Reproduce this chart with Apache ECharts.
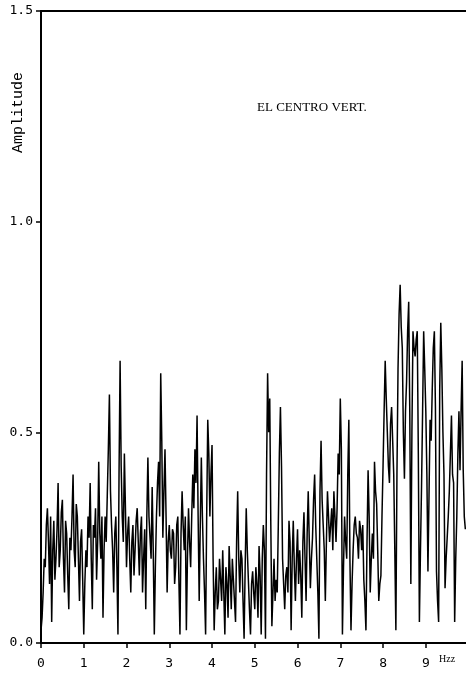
<!DOCTYPE html>
<html>
<head>
<meta charset="utf-8">
<script src="https://cdn.jsdelivr.net/npm/echarts@6/dist/echarts.min.js"></script>
<style>
	html, body { margin: 0; padding: 0; background: #fff; }
	#chart { width: 466px; height: 679px; }
</style>
</head>
<body>
<div id="chart"></div>
<script>
	// spectrum sampled every 0.025 Hz, starting at 0 Hz
	const freqStep = 0.025
	const amplitude = [
		0.03, 0.06, 0.12, 0.20, 0.18, 0.28, 0.32, 0.24, 0.14, 0.30, 0.05, 0.22, 0.29, 0.15, 0.20, 0.27, 0.38, 0.18, 0.22, 0.31, 0.34, // 0 - 0.5
		0.20, 0.12, 0.29, 0.26, 0.16, 0.08, 0.25, 0.22, 0.30, 0.40, 0.22, 0.18, 0.33, 0.30, 0.20, 0.10, 0.24, 0.27, 0.15, 0.02, // - 1.0
		0.14, 0.22, 0.18, 0.30, 0.25, 0.38, 0.20, 0.08, 0.28, 0.25, 0.32, 0.15, 0.24, 0.43, 0.26, 0.20, 0.30, 0.06, 0.22, 0.30, // - 1.5
		0.24, 0.35, 0.46, 0.59, 0.36, 0.28, 0.22, 0.12, 0.26, 0.30, 0.18, 0.02, 0.40, 0.67, 0.42, 0.30, 0.24, 0.45, 0.32, 0.18, // - 2.0
		0.26, 0.30, 0.20, 0.12, 0.24, 0.28, 0.16, 0.22, 0.29, 0.32, 0.24, 0.16, 0.26, 0.30, 0.12, 0.20, 0.27, 0.08, 0.30, 0.44, // - 2.5
		0.30, 0.25, 0.20, 0.37, 0.22, 0.02, 0.18, 0.30, 0.38, 0.43, 0.30, 0.64, 0.48, 0.25, 0.36, 0.46, 0.30, 0.12, 0.24, 0.28, // - 3.0
		0.22, 0.20, 0.27, 0.26, 0.14, 0.18, 0.28, 0.30, 0.15, 0.02, 0.26, 0.36, 0.28, 0.22, 0.30, 0.03, 0.20, 0.32, 0.24, 0.18, // - 3.5
		0.30, 0.40, 0.32, 0.46, 0.38, 0.54, 0.30, 0.10, 0.28, 0.44, 0.30, 0.20, 0.12, 0.02, 0.30, 0.53, 0.45, 0.30, 0.40, 0.47, // - 4.0
		0.20, 0.03, 0.12, 0.18, 0.08, 0.10, 0.20, 0.15, 0.10, 0.22, 0.12, 0.02, 0.18, 0.14, 0.06, 0.23, 0.16, 0.08, 0.20, 0.15, // - 4.5
		0.10, 0.05, 0.24, 0.36, 0.20, 0.12, 0.22, 0.20, 0.10, 0.01, 0.18, 0.32, 0.22, 0.15, 0.08, 0.02, 0.14, 0.17, 0.12, 0.08, // - 5.0
		0.18, 0.14, 0.06, 0.23, 0.16, 0.02, 0.20, 0.28, 0.22, 0.01, 0.40, 0.64, 0.50, 0.58, 0.28, 0.04, 0.12, 0.20, 0.10, 0.15, // - 5.5
		0.12, 0.28, 0.45, 0.56, 0.42, 0.20, 0.14, 0.08, 0.16, 0.18, 0.12, 0.29, 0.24, 0.03, 0.20, 0.29, 0.18, 0.10, 0.20, 0.27, // - 6.0
		0.14, 0.22, 0.16, 0.06, 0.24, 0.31, 0.20, 0.10, 0.26, 0.36, 0.24, 0.13, 0.20, 0.25, 0.34, 0.40, 0.28, 0.20, 0.12, 0.01, // - 6.5
		0.36, 0.48, 0.34, 0.28, 0.22, 0.10, 0.24, 0.36, 0.30, 0.24, 0.28, 0.32, 0.22, 0.36, 0.30, 0.24, 0.32, 0.45, 0.40, 0.58, // - 7.0
		0.46, 0.02, 0.18, 0.30, 0.24, 0.20, 0.40, 0.53, 0.20, 0.03, 0.14, 0.22, 0.28, 0.30, 0.26, 0.25, 0.20, 0.29, 0.27, 0.22, // - 7.5
		0.28, 0.15, 0.10, 0.03, 0.24, 0.41, 0.30, 0.12, 0.20, 0.26, 0.20, 0.43, 0.36, 0.33, 0.22, 0.10, 0.14, 0.16, 0.30, 0.42, // - 8.0
		0.55, 0.67, 0.58, 0.50, 0.42, 0.38, 0.52, 0.56, 0.48, 0.40, 0.22, 0.03, 0.40, 0.65, 0.78, 0.85, 0.75, 0.70, 0.50, 0.39, // - 8.5
		0.55, 0.62, 0.74, 0.81, 0.55, 0.14, 0.50, 0.74, 0.70, 0.68, 0.72, 0.74, 0.45, 0.05, 0.22, 0.37, 0.55, 0.74, 0.65, 0.55, // - 9.0
		0.40, 0.17, 0.35, 0.53, 0.48, 0.60, 0.70, 0.74, 0.56, 0.17, 0.10, 0.05, 0.60, 0.76, 0.65, 0.50, 0.40, 0.13, 0.20, 0.25, // - 9.5
		0.30, 0.36, 0.45, 0.54, 0.40, 0.38, 0.05, 0.20, 0.30, 0.45, 0.55, 0.41, 0.55, 0.67, 0.41, 0.30, 0.27 // - 9.925
	]
	const xTicks = [0, 1, 2, 3, 4, 5, 6, 7, 8, 9]
	const yTicks = [0, 0.5, 1.0, 1.5]

	const points = amplitude.map((a, i) => [+(i * freqStep).toFixed(3), a])

	const monoFont = 'DejaVu Sans Mono'
	const option = {
		animation: false,
		backgroundColor: '#fff',
		grid: {
			left: 41,
			right: 0,
			top: 11,
			bottom: 36
		},
		xAxis: [
			{
				type: 'value',
				min: 0,
				max: 9.94,
				interval: 1,
				axisLine: { show: true, lineStyle: { color: '#000', width: 2 } },
				axisTick: { show: true, length: 5, lineStyle: { color: '#000', width: 1.5 },
					customValues: xTicks },
				axisLabel: {
					color: '#000', fontFamily: monoFont, fontSize: 13, margin: 14,
					customValues: xTicks,
					formatter: (v) => String(v)
				},
				splitLine: { show: false }
			},
			{
				// top frame line
				type: 'value',
				position: 'top',
				min: 0,
				max: 9.94,
				axisLine: { show: true, lineStyle: { color: '#000', width: 2 } },
				axisTick: { show: false },
				axisLabel: { show: false },
				splitLine: { show: false }
			}
		],
		yAxis: {
			type: 'value',
			min: 0,
			max: 1.5,
			interval: 0.5,
			axisLine: { show: true, lineStyle: { color: '#000', width: 2 } },
			axisTick: { show: true, length: 5, lineStyle: { color: '#000', width: 1.5 } },
			axisLabel: {
				color: '#000', fontFamily: monoFont, fontSize: 13, margin: 8,
				customValues: yTicks,
				formatter: (v) => v.toFixed(1)
			},
			splitLine: { show: false }
		},
		graphic: [
			{
				type: 'text',
				left: 11,
				top: 72,
				rotation: Math.PI / 2,
				style: { text: 'Amplitude', fill: '#000', font: '15px "Liberation Mono"' }
			},
			{
				type: 'text',
				left: 257,
				top: 101,
				style: { text: 'EL CENTRO VERT.', fill: '#000', font: '13px "Liberation Serif"' }
			},
			{
				type: 'text',
				left: 439,
				top: 654,
				style: { text: 'Hzz', fill: '#000', font: '10px "Liberation Serif"' }
			}
		],
		series: [
			{
				type: 'line',
				data: points,
				symbol: 'none',
				lineStyle: { color: '#000', width: 1.5 }
			}
		]
	}

	const chart = echarts.init(document.getElementById('chart'))
	chart.setOption(option)
	window.onresize = () => {
		chart.resize()
	}
</script>
</body>
</html>
